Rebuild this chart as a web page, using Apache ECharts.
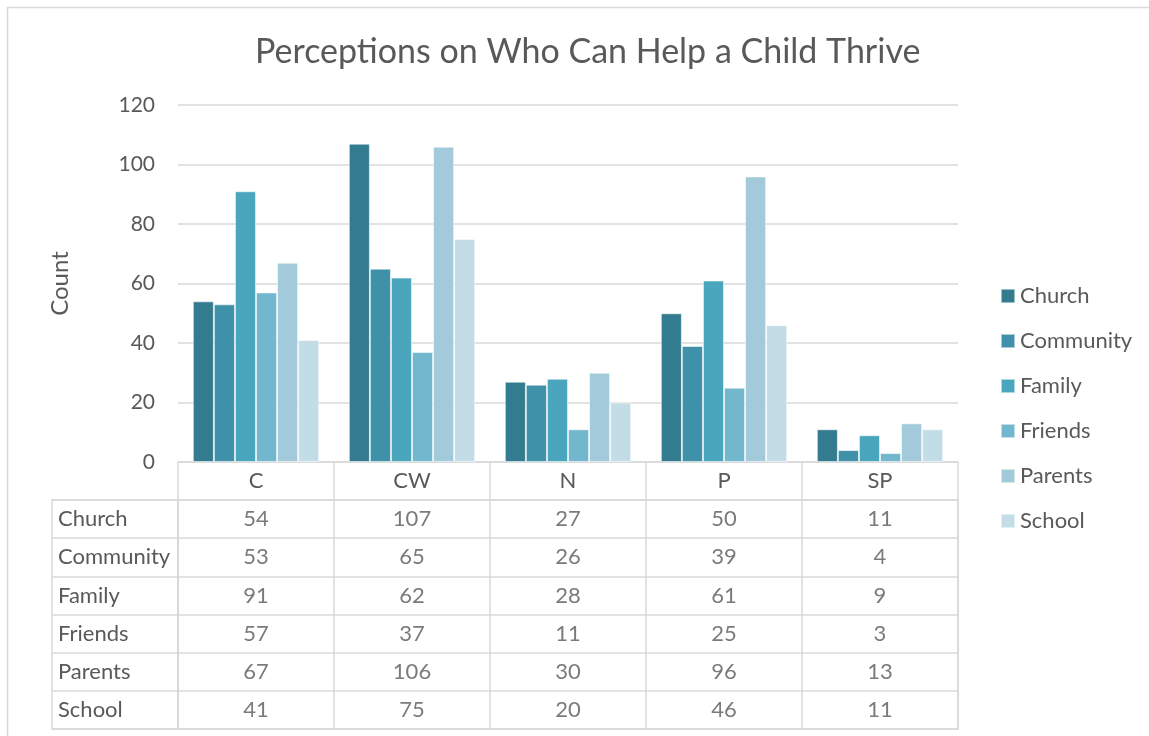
<!DOCTYPE html>
<html>
<head>
<meta charset="utf-8">
<title>Perceptions on Who Can Help a Child Thrive</title>
<script src="https://cdn.jsdelivr.net/npm/echarts@6/dist/echarts.min.js"></script>
<style>
  html, body { margin: 0; padding: 0; background: #ffffff; }
  #chart { width: 1149px; height: 736px; }
</style>
</head>
<body>
<div id="chart"></div>
<script>
// Response categories along the horizontal axis
const categories = ['C', 'CW', 'N', 'P', 'SP'];

// Counts per helper group, one value per category
const church    = [54, 107, 27, 50, 11];
const community = [53, 65, 26, 39, 4];
const family    = [91, 62, 28, 61, 9];
const friends   = [57, 37, 11, 25, 3];
const parents   = [67, 106, 30, 96, 13];
const school    = [41, 75, 20, 46, 11];

const seriesNames = ['Church', 'Community', 'Family', 'Friends', 'Parents', 'School'];
const seriesValues = [church, community, family, friends, parents, school];

// Value axis tick labels
const yTicks = [0, 20, 40, 60, 80, 100, 120];

const colors = ['#337b8e', '#3f90a9', '#49a6bd', '#72b7cd', '#a2cadb', '#c2dde5'];
const textColor = '#595959';
const lineColor = '#d9d9d9';
const fontFamily = 'Lato, "Open Sans", sans-serif';

// Cells of the data table: [column index, row index, value]
const tableCells = [];
seriesValues.forEach((vals, r) => {
  vals.forEach((v, c) => tableCells.push([c, r, v]));
});

const chart = echarts.init(document.getElementById('chart'), null, { renderer: 'canvas' });

const barSeries = seriesNames.map((name, i) => ({
  name: name,
  type: 'bar',
  xAxisIndex: 0,
  yAxisIndex: 0,
  data: seriesValues[i],
  barGap: '0%',
  barCategoryGap: '19%',
  itemStyle: { color: colors[i], borderColor: 'rgba(255,255,255,0.55)', borderWidth: 1 },
  emphasis: { disabled: true }
}));

const option = {
  animation: false,
  color: colors,
  textStyle: { fontFamily: fontFamily, color: textColor },
  title: {
    text: 'Perceptions on Who Can Help a Child Thrive',
    left: 250,
    top: 30,
    textStyle: { fontFamily: fontFamily, fontSize: 34, fontWeight: 'normal', color: textColor }
  },
  legend: {
    orient: 'vertical',
    left: 1000,
    top: 285,
    padding: 0,
    itemWidth: 14,
    itemHeight: 14,
    itemGap: 23,
    icon: 'rect',
    data: seriesNames,
    textStyle: { fontFamily: fontFamily, fontSize: 22, color: textColor, lineHeight: 22 }
  },
  graphic: [{
    type: 'rect',
    shape: { x: 7.5, y: 7.5, width: 1300, height: 900 },
    style: { fill: 'none', stroke: lineColor, lineWidth: 1.5 },
    silent: true,
    z: -10
  }],
  grid: [
    // bar plot
    { left: 178, right: 191, top: 105, bottom: 274 },
    // data table cells
    { left: 178, right: 191, top: 500, height: 229, show: true, borderColor: lineColor, borderWidth: 1.5 },
    // data table row label column
    { left: 52, width: 126, top: 500, height: 229, show: true, borderColor: lineColor, borderWidth: 1.5 }
  ],
  xAxis: [
    {
      gridIndex: 0,
      type: 'category',
      data: categories,
      axisLine: { lineStyle: { color: lineColor, width: 1.5 } },
      axisTick: { show: true, length: 38, alignWithLabel: false, lineStyle: { color: lineColor, width: 1.5 } },
      axisLabel: { color: textColor, fontSize: 22, margin: 8, fontFamily: fontFamily },
      splitLine: { show: false }
    },
    {
      gridIndex: 1,
      type: 'category',
      data: categories,
      axisLine: { show: false },
      axisTick: { show: false },
      axisLabel: { show: false },
      splitLine: { show: true, interval: 0, lineStyle: { color: lineColor, width: 1.5 } }
    },
    {
      gridIndex: 2,
      type: 'category',
      data: [''],
      axisLine: { show: false },
      axisTick: { show: false },
      axisLabel: { show: false },
      splitLine: { show: false }
    }
  ],
  yAxis: [
    {
      gridIndex: 0,
      type: 'value',
      min: yTicks[0],
      max: yTicks[yTicks.length - 1],
      interval: yTicks[1] - yTicks[0],
      name: 'Count',
      nameLocation: 'middle',
      nameRotate: 90,
      nameGap: 106,
      nameTextStyle: { fontSize: 24, color: textColor, fontFamily: fontFamily },
      axisLine: { show: false },
      axisTick: { show: false },
      axisLabel: { color: textColor, fontSize: 21, margin: 23, fontFamily: fontFamily },
      splitLine: { lineStyle: { color: lineColor, width: 1.5 } }
    },
    {
      gridIndex: 1,
      type: 'category',
      data: seriesNames,
      inverse: true,
      axisLine: { show: false },
      axisTick: { show: false },
      axisLabel: { show: true, align: 'left', margin: 120, color: textColor, fontSize: 22, fontFamily: fontFamily },
      splitLine: { show: true, interval: 0, lineStyle: { color: lineColor, width: 1.5 } }
    },
    {
      gridIndex: 2,
      type: 'category',
      data: seriesNames,
      inverse: true,
      axisLine: { show: false },
      axisTick: { show: false },
      axisLabel: { show: false },
      splitLine: { show: true, interval: 0, lineStyle: { color: lineColor, width: 1.5 } }
    }
  ],
  series: barSeries.concat([{
    name: 'table',
    type: 'scatter',
    xAxisIndex: 1,
    yAxisIndex: 1,
    data: tableCells,
    symbolSize: 1,
    itemStyle: { color: 'rgba(0,0,0,0)' },
    silent: true,
    label: {
      show: true,
      position: 'inside',
      formatter: p => String(p.value[2]),
      color: textColor,
      fontSize: 22,
      fontFamily: fontFamily
    },
    emphasis: { disabled: true }
  }])
};

chart.setOption(option);
</script>
</body>
</html>
